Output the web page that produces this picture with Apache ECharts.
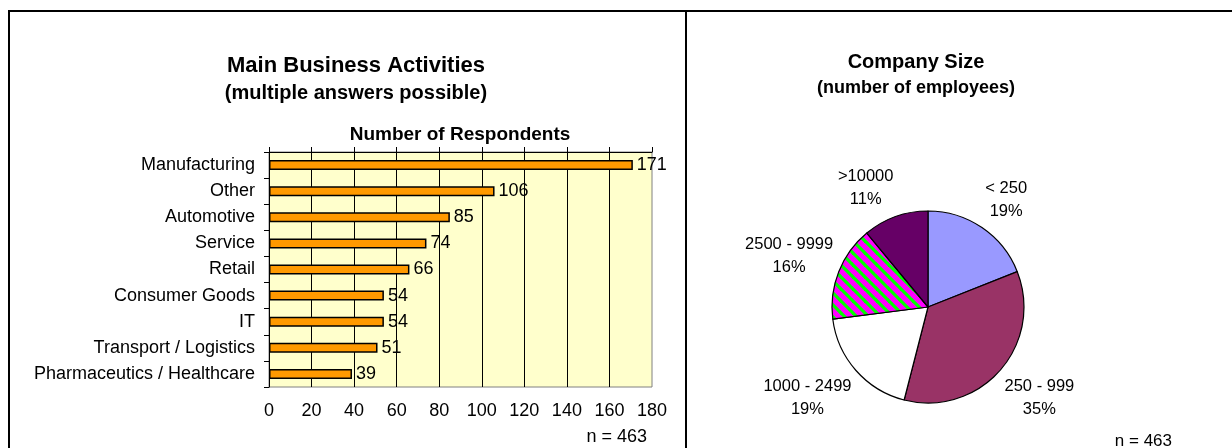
<!DOCTYPE html>
<html>
<head>
<meta charset="utf-8">
<script src="https://cdn.jsdelivr.net/npm/echarts@6/dist/echarts.min.js"></script>
<style>
html,body{margin:0;padding:0;background:#fff;}
#chart{width:1232px;height:448px;}
</style>
</head>
<body>
<div id="chart"></div>
<script>
// ---- data ----
const categories = ['Manufacturing', 'Other', 'Automotive', 'Service', 'Retail', 'Consumer Goods', 'IT', 'Transport / Logistics', 'Pharmaceutics / Healthcare'];
const respondents = [171, 106, 85, 74, 66, 54, 54, 51, 39];
const xMin = 0, xMax = 180, xStep = 20;
const sizeClasses = ['< 250', '250 - 999', '1000 - 2499', '2500 - 9999', '>10000'];
const sizeShares = [19, 35, 19, 16, 11];
const sampleNote = 'n = 463';

// ---- styling ----
const FONT = 'Liberation Sans, Arial, sans-serif';
const PIE_CX = 928, PIE_CY = 307, PIE_R = 96, LABEL_GAP = 6;

function stripePattern() {
  const s = 12;
  const c = document.createElement('canvas');
  c.width = s; c.height = s;
  const g = c.getContext('2d');
  g.fillStyle = '#FF00FF';
  g.fillRect(0, 0, s, s);
  g.strokeStyle = '#00FF00';
  g.lineWidth = 3.2;
  for (let k = -1; k <= 1; k++) {
    g.beginPath();
    g.moveTo(-1, k * s - 1);
    g.lineTo(s + 1, s + k * s + 1);
    g.stroke();
  }
  return { image: c, repeat: 'repeat' };
}

const pieColors = ['#9999FF', '#993366', '#FFFFFF', stripePattern(), '#660066'];
const total = sizeShares.reduce((a, b) => a + b, 0);

const chart = echarts.init(document.getElementById('chart'), null, { renderer: 'canvas' });

const option = {
  backgroundColor: '#FFFFFF',
  animation: false,
  textStyle: { fontFamily: FONT },
  title: [
    { text: 'Main Business Activities', left: 356, top: 55, textAlign: 'center', padding: 0,
      textStyle: { fontFamily: FONT, fontSize: 22, fontWeight: 'bold', color: '#000' } },
    { text: '(multiple answers possible)', left: 356, top: 83, textAlign: 'center', padding: 0,
      textStyle: { fontFamily: FONT, fontSize: 20, fontWeight: 'bold', color: '#000' } },
    { text: 'Number of Respondents', left: 460, top: 125, textAlign: 'center', padding: 0,
      textStyle: { fontFamily: FONT, fontSize: 19, fontWeight: 'bold', color: '#000' } },
    { text: 'Company Size', left: 916, top: 52, textAlign: 'center', padding: 0,
      textStyle: { fontFamily: FONT, fontSize: 20, fontWeight: 'bold', color: '#000' } },
    { text: '(number of employees)', left: 916, top: 79, textAlign: 'center', padding: 0,
      textStyle: { fontFamily: FONT, fontSize: 18, fontWeight: 'bold', color: '#000' } }
  ],
  grid: {
    left: 269, right: 580, top: 152, bottom: 61,
    show: true, backgroundColor: '#FFFFCC', borderColor: '#808080', borderWidth: 1
  },
  xAxis: [
    {
      type: 'value', position: 'top', min: xMin, max: xMax, interval: xStep,
      axisLine: { show: true, lineStyle: { color: '#000', width: 1 } },
      axisTick: { show: true, inside: false, length: 5, lineStyle: { color: '#000' } },
      axisLabel: { show: false },
      splitLine: { show: true, showMinLine: false, showMaxLine: false, lineStyle: { color: '#000', width: 1 } }
    },
    {
      type: 'value', position: 'bottom', min: xMin, max: xMax, interval: xStep,
      axisLine: { show: false }, axisTick: { show: false }, splitLine: { show: false },
      axisLabel: { show: true, margin: 15, fontSize: 18, color: '#000', fontFamily: FONT }
    }
  ],
  yAxis: {
    type: 'category', inverse: true, data: categories,
    axisLine: { show: true, lineStyle: { color: '#000', width: 1 } },
    axisTick: { show: true, inside: false, length: 5, alignWithLabel: false, lineStyle: { color: '#000' } },
    axisLabel: { margin: 14, fontSize: 18, color: '#000', fontFamily: FONT },
    splitLine: { show: false }
  },
  series: [
    {
      type: 'bar', xAxisIndex: 0, yAxisIndex: 0,
      data: respondents, barWidth: 10,
      itemStyle: { color: '#FF9900', borderColor: '#000', borderWidth: 1.5 },
      label: { show: true, position: 'right', distance: 4, fontSize: 18, color: '#000', fontFamily: FONT }
    },
    {
      type: 'pie', center: [PIE_CX, PIE_CY], radius: PIE_R,
      startAngle: 90, clockwise: true, avoidLabelOverlap: false, percentPrecision: 0,
      data: sizeClasses.map((n, i) => ({ name: n, value: sizeShares[i], itemStyle: { color: pieColors[i] } })),
      itemStyle: { borderColor: '#000', borderWidth: 1.2 },
      label: { show: true, position: 'outside', formatter: '{b}\n{d}%', fontSize: 16.5, lineHeight: 23,
        color: '#000', fontFamily: FONT, align: 'center' },
      labelLine: { show: false },
      labelLayout: function (p) {
        const i = p.dataIndex;
        let cum = 0;
        for (let k = 0; k < i; k++) cum += sizeShares[k];
        const th = (cum + sizeShares[i] / 2) / total * 2 * Math.PI;
        const dx = Math.sin(th), dy = -Math.cos(th);
        const hw = p.labelRect.width / 2, hh = p.labelRect.height / 2;
        const rr = PIE_R + LABEL_GAP;
        const oy = Math.max(-1, Math.min(1, 1.6 * dy));
        return { x: PIE_CX + rr * dx + hw * Math.sign(dx), y: PIE_CY + rr * dy + hh * oy,
                 align: 'center', verticalAlign: 'middle' };
      },
      emphasis: { disabled: true }
    }
  ],
  graphic: [
    { type: 'polyline', shape: { points: [[9, 448], [9, 11], [1232, 11]] }, style: { stroke: '#000', lineWidth: 2, fill: null }, silent: true },
    { type: 'line', shape: { x1: 686, y1: 11, x2: 686, y2: 448 }, style: { stroke: '#000', lineWidth: 2 }, silent: true },
    { type: 'text', x: 647, y: 437, style: { text: sampleNote, font: '18px ' + FONT, fill: '#000', textAlign: 'right', textVerticalAlign: 'middle' }, silent: true },
    { type: 'text', x: 1172, y: 441, style: { text: sampleNote, font: '17px ' + FONT, fill: '#000', textAlign: 'right', textVerticalAlign: 'middle' }, silent: true }
  ]
};
chart.setOption(option);
</script>
</body>
</html>
